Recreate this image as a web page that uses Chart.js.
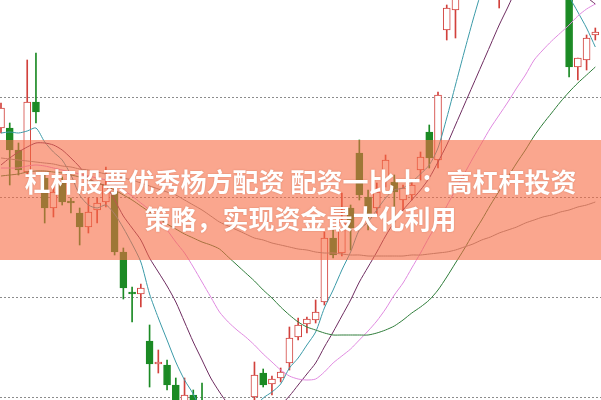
<!DOCTYPE html>
<html><head><meta charset="utf-8">
<script src="https://cdn.jsdelivr.net/npm/chart.js@4"></script>
<style>
html,body{margin:0;padding:0;background:#fff;}
#wrap{position:relative;width:601px;height:400px;overflow:hidden;background:#fff;}
#c{position:absolute;left:0;top:0;}
#banner{position:absolute;left:0;top:140px;width:601px;height:120px;background:rgba(246,107,66,0.6);box-sizing:border-box;padding-top:22px;text-align:center;color:#fff;font-family:"Noto Sans CJK SC",sans-serif;font-weight:700;font-size:26px;line-height:37px;white-space:nowrap;text-shadow:0 0 2px rgba(160,60,30,0.35);}
</style></head>
<body><div id="wrap"><canvas id="c" width="601" height="400"></canvas>
<div id="banner"><div>杠杆股票优秀杨方配资 配资一比十：高杠杆投资</div><div>策略，实现资金最大化利用</div></div></div>
<script>
const days = [0,1,2,3,4,5,6,7,8,9,10,11,12,13,14,15,16,17,18,19,20,21,22,23,24,25,26,27,28,29,30,31,32,33,34,35,36,37,38,39,40,41,42,43,44,45,46,47,48,49,50,51,52,53,54,55,56,57,58,59,60,61,62,63,64,65,66,67,68];
const open = [36.9,36.9,34.7,32.5,39.5,31.9,28.9,31.4,29.6,28.4, 27.0,28.7,29.5,30.5,24.5,20.5,20.3,15.6,13.3,13.2, 11.2,8.5,10.2,9.2,6.2,5.2,6.7,7.2,8.2,10.0, 12.4,11.3,11.9,13.4,16.0,17.3,17.7,19.5,25.9,24.4, 28.9,34.4,30.0,28.9,31.7,31.5,29.7,30.2,32.7,36.5, 33.7,46.7,48.7,52.7,55.7,57.7,59.7,56.7,59.2,61.7, 60.7,63.7,62.7,60.7,57.7,53.7,43.0,43.7,46.2];
const high = [39.4,37.4,35.4,43.7,44.4,32.2,31.0,32.0,29.9,28.9, 29.9,29.9,33.0,31.0,24.9,21.0,21.3,17.2,14.7,13.7, 11.9,11.9,10.7,11.4,7.2,7.7,8.5,8.9,9.4,13.5, 12.8,12.1,12.9,17.0,17.9,18.0,19.7,26.5,26.7,30.4, 29.2,35.7,30.7,31.4,34.2,32.2,31.2,31.7,34.5,37.2, 40.5,49.2,53.7,56.7,58.7,60.7,61.7,60.7,62.7,63.7, 64.7,65.7,64.7,62.7,59.7,54.7,43.9,46.2,46.9];
const low = [36.4,31.2,32.2,32.0,37.4,27.4,28.0,29.2,28.4,25.2, 26.4,27.4,29.0,24.2,19.8,17.5,19.0,11.0,12.4,10.7, 7.2,7.9,6.7,5.2,3.2,4.7,5.7,6.5,6.9,9.5, 11.0,10.2,11.5,12.7,15.7,16.4,17.4,19.2,23.9,24.1, 24.7,29.7,26.7,28.2,31.0,27.4,28.7,29.7,31.7,32.9, 32.9,45.7,45.9,51.7,54.7,56.7,58.2,48.9,58.2,59.7, 59.7,61.7,59.7,56.7,52.7,42.0,41.7,42.7,45.7];
const close = [38.9,34.7,32.7,39.5,38.5,28.9,30.5,29.5,29.4,27.0, 28.5,29.4,31.2,24.5,20.9,20.3,20.9,13.3,13.5,11.2, 8.2,10.2,7.7,6.2,5.2,6.7,7.7,8.2,8.5,12.2, 11.2,11.8,12.5,15.9,17.2,17.8,18.5,25.9,24.2,27.5, 26.9,30.2,28.0,30.5,33.7,30.5,30.9,31.2,34.0,33.9, 40.2,48.9,52.7,55.7,57.7,59.7,58.7,59.2,61.7,60.7, 63.7,62.7,60.7,57.7,53.7,43.0,43.9,45.9,46.5];
const ma5 = [36.4,36.5,36.4,36.6,36.9,35.5,34.5,33.7,32.2,30.2, 29.2,28.9,29.2,28.3,26.9,25.3,23.5,20.3,17.9,15.7, 13.5,11.7,10.3,8.5,7.2,6.7,6.9,7.1,7.7,8.9, 9.9,10.5,11.3,12.9,13.9,15.2,16.5,18.9,20.7,22.7, 24.5,26.7,27.5,28.7,29.9,30.7,30.9,31.5,32.3,33.2, 34.9,37.9,41.2,44.5,47.7,50.7,53.7,55.7,57.7,59.2, 60.2,60.7,60.2,58.2,54.7,50.2,48.5,46.9,45.0];
const ma10 = [33.2,33.9,34.5,35.0,35.4,35.4,35.2,34.7,33.9,33.0, 31.9,31.4,31.1,29.7,28.1,26.9,25.7,23.9,22.5,21.1, 19.5,17.5,15.5,13.7,11.9,10.5,9.3,8.7,8.3,8.3, 8.5,8.7,9.2,10.1,11.2,12.3,13.4,15.0,16.5,18.1, 19.7,21.5,23.0,24.5,26.1,27.5,28.7,29.7,30.7,31.9, 33.5,35.2,37.2,39.2,41.2,43.2,45.2,47.2,49.0,50.9, 52.5,53.7,54.2,54.2,52.9,51.9,50.9,50.0,49.3];
const ma20 = [32.9,32.9,32.9,33.1,33.2,33.1,32.9,32.7,32.5,32.3, 32.1,31.9,31.7,31.3,30.7,30.1,29.4,28.7,27.7,26.7, 25.5,24.4,23.0,21.5,20.0,18.5,17.5,16.7,16.0,15.2, 14.3,13.5,12.7,12.1,11.8,11.7,11.8,12.5,13.4,14.1, 14.8,15.7,16.6,17.6,18.8,20.2,21.4,22.9,24.4,26.0, 27.5,29.1,30.7,32.3,33.9,35.4,36.9,38.2,39.5,40.9, 42.2,43.7,44.7,45.6,46.4,47.2,48.1,48.8,49.3];
const ma60 = [32.1,32.2,32.3,32.5,32.6,32.6,32.5,32.4,32.2,32.0, 31.7,31.4,31.1,30.7,30.2,29.7,29.1,28.5,27.9,27.3, 26.8,26.3,25.9,25.5,25.2,24.8,24.0,23.2,22.4,21.6, 20.7,19.9,19.0,18.2,17.5,17.0,16.7,16.4,16.2,16.2, 16.2,16.2,16.2,16.4,16.7,17.1,17.7,18.4,19.0,19.7, 20.7,22.0,23.4,24.8,26.3,27.7,29.2,30.6,32.0,33.4, 34.7,36.1,37.3,38.4,39.5,40.5,41.4,42.2,43.0];
const ma120 = [33.9,33.8,33.7,33.6,33.5,33.4,33.3,33.1,33.0,32.8, 32.7,32.5,32.3,32.1,31.9,31.7,31.4,31.1,30.8,30.5, 30.2,29.7,29.2,28.7,28.1,27.5,27.1,26.7,26.3,25.9, 25.7,25.4,25.2,25.0,24.8,24.7,24.5,24.4,24.4,24.3, 24.2,24.2,24.1,24.1,24.1,24.1,24.1,24.2,24.2,24.3, 24.4,24.5,24.7,25.0,25.3,25.7,26.0,26.4,26.7,27.0, 27.4,27.7,28.0,28.2,28.5,28.7,29.0,29.2,29.5];
const gridTicks = [10,20,30,40];

const UP = '#d2413c', DOWN = '#1b8a24';
const isUp = days.map((d,i)=>close[i] >= open[i]);

const gridPlugin = {
  id:'dottedGrid',
  beforeDatasetsDraw(chart){
    const {ctx, chartArea, scales} = chart;
    ctx.save();
    ctx.strokeStyle = 'rgba(120,120,120,0.85)';
    ctx.lineWidth = 1;
    ctx.setLineDash([2,2]);
    gridTicks.forEach(v=>{
      const y = Math.round(scales.y.getPixelForValue(v)) + 0.5;
      ctx.beginPath(); ctx.moveTo(chartArea.left, y); ctx.lineTo(chartArea.right, y); ctx.stroke();
    });
    ctx.restore();
  }
};

function lineDs(vals, color, w){
  return {type:'line', data: days.map((d,i)=>({x:d, y:vals[i]})), borderColor:color, borderWidth:w||1,
    pointRadius:0, tension:0.25, fill:false, order:1};
}

new Chart(document.getElementById('c'), {
  type:'bar',
  data:{datasets:[
    {type:'bar', data: days.map((d,i)=>({x:d, y:[low[i], high[i]]})),
      backgroundColor: days.map((d,i)=>isUp[i]?UP:DOWN), barThickness:1, grouped:false, order:3},
    {type:'bar', data: days.map((d,i)=>({x:d, y:[open[i], close[i]]})),
      backgroundColor: days.map((d,i)=>isUp[i]?'#ffffff':DOWN),
      borderColor: days.map((d,i)=>isUp[i]?UP:DOWN), borderWidth:1, borderSkipped:false,
      barThickness:7, grouped:false, order:2},
    lineDs(ma120, '#8a8a8a'),
    lineDs(ma60, '#2f7d3a'),
    lineDs(ma20, '#e08ae0'),
    lineDs(ma10, '#6e2c60'),
    lineDs(ma5, '#3b9aa8')
  ]},
  options:{
    responsive:false, animation:false,
    layout:{padding:0},
    plugins:{legend:{display:false}, tooltip:{enabled:false}, title:{display:false}},
    scales:{
      x:{type:'linear', min:-0.114, max:68.65, display:false, offset:false},
      y:{type:'linear', min:9.7, max:49.7, display:false}
    }
  },
  plugins:[gridPlugin]
});
</script>
</body></html>
